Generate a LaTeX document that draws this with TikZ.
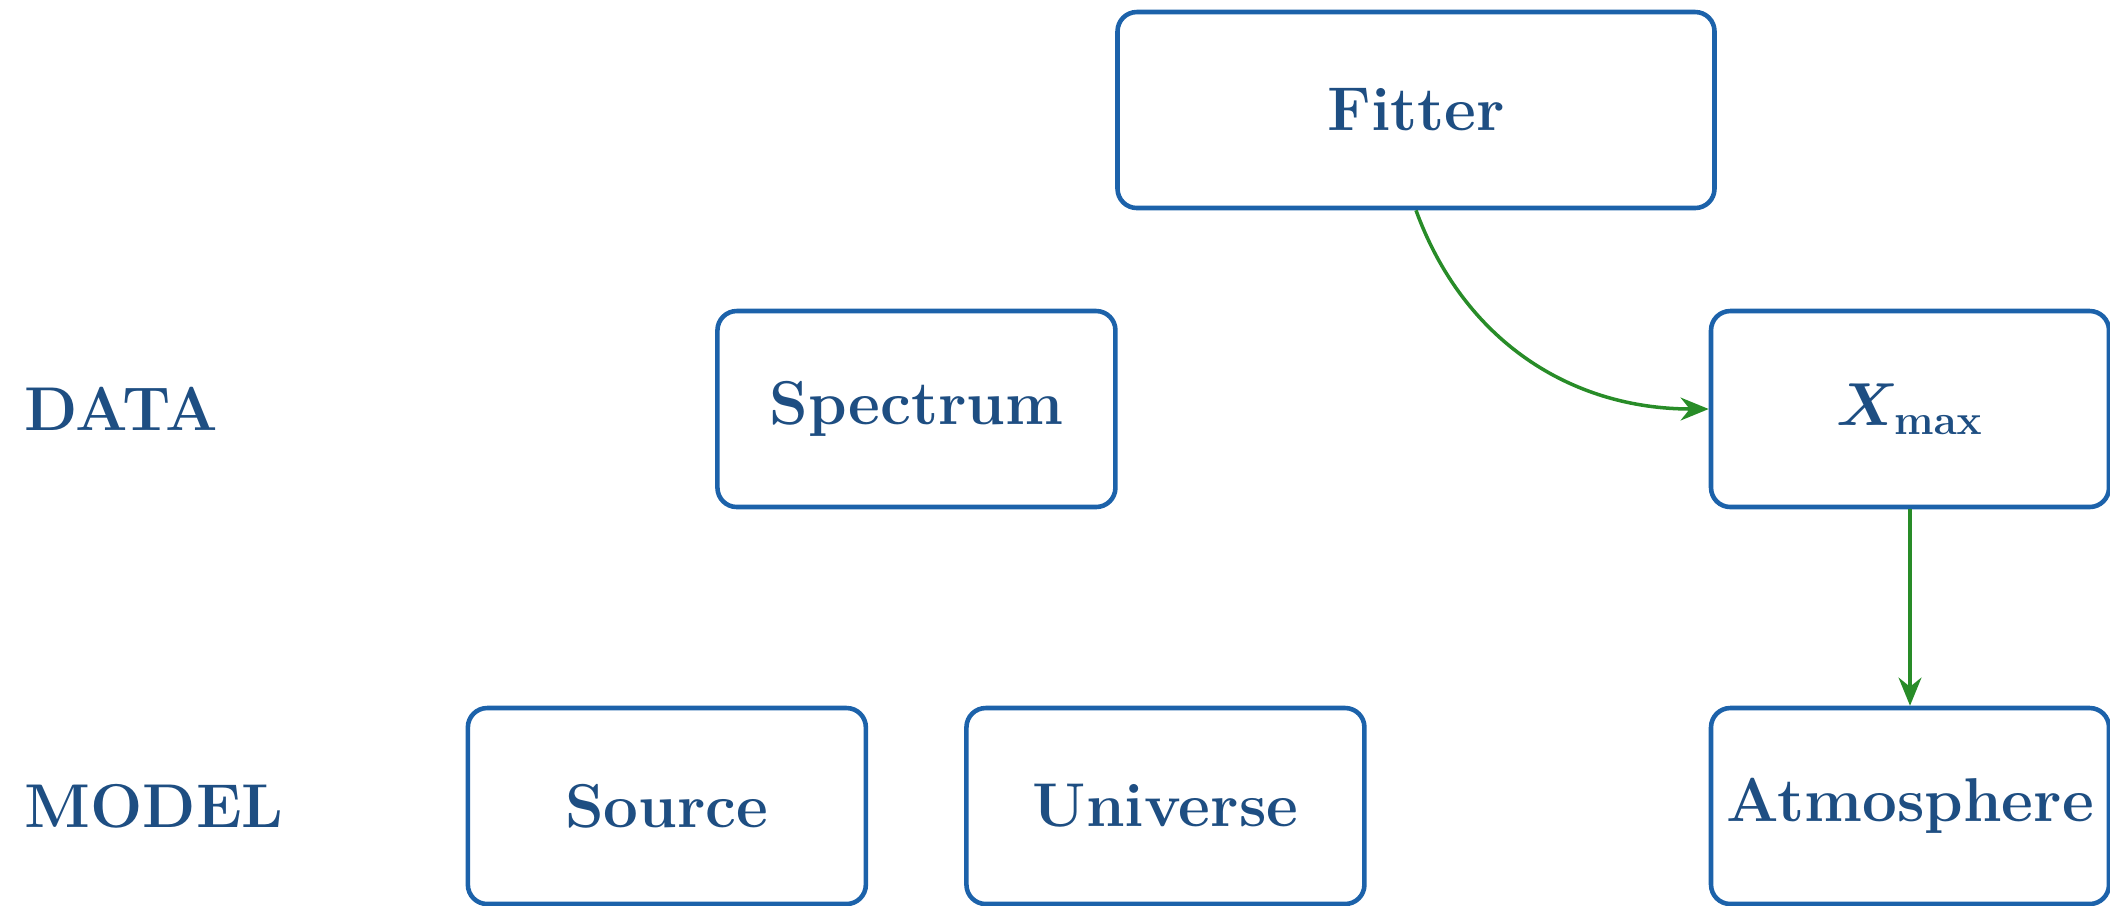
\documentclass[tikz,border=0pt]{standalone}
\usepackage{tikz}
\usepackage{bm}
\usetikzlibrary{arrows.meta, positioning}
\definecolor{boxblue}{RGB}{28,98,170}
\definecolor{textblue}{RGB}{30,78,130}
\definecolor{flowgreen}{RGB}{40,140,40}

\begin{document}
\begin{tikzpicture}[
    block/.style={
        rectangle, draw=boxblue, line width=1.3pt, rounded corners=5.5pt,
        fill=white, text=textblue, inner sep=2pt,
        minimum width=3.98cm, minimum height=1.96cm,
        font=\fontsize{17.6}{21}\selectfont\bfseries
    },
    rowlabel/.style={anchor=west, text=textblue, font=\fontsize{17.6}{21}\selectfont\bfseries},
    arr/.style={-{Stealth[length=8pt, width=6.5pt]}, line width=1pt, flowgreen}
]

\useasboundingbox (0,0) rectangle (21.10,-9.05);

% Fitter
\node[block, minimum width=5.97cm] (fitter) at (14.16,-1.10) {Fitter};

% DATA row
\node[block] (xmax) at (19.10,-4.09) {$\bm{X}_{\mathbf{max}}$};
\node[block, left=5.91cm of xmax] (spectrum) {Spectrum};
\node[rowlabel] (data) at (0.12,-4.09) {DATA};

% MODEL row
\node[block] (atmo) at (19.10,-8.06) {Atmosphere};
\node[block, left=3.42cm of atmo] (universe) {Universe};
\node[block, left=0.96cm of universe] (source) {Source};
\node[rowlabel] (model) at (0.12,-8.06) {MODEL};

% Arrows
\draw[arr] (fitter.south) to[out=-70, in=180] (xmax.west);
\draw[arr] (xmax.south) -- (atmo.north);

\end{tikzpicture}
\end{document}
